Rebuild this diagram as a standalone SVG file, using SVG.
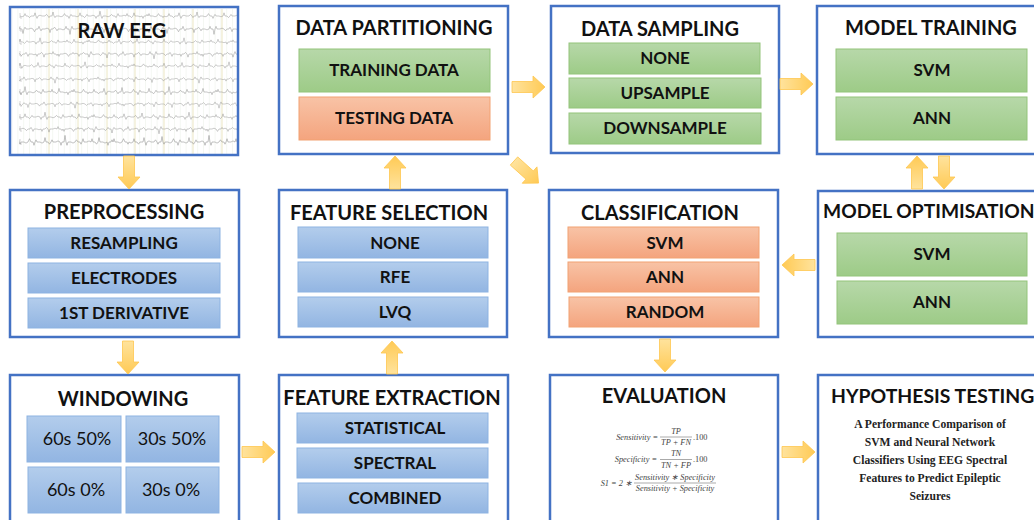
<svg xmlns="http://www.w3.org/2000/svg" xmlns:xlink="http://www.w3.org/1999/xlink" width="1034" height="520" viewBox="0 0 1034 520">
<style>
.box{fill:#fff;stroke:#4472C4;stroke-width:2.5}
.title{font-family:Lato,"Liberation Sans",sans-serif;font-weight:700;font-size:20px;fill:#111;text-anchor:middle}
.item{font-family:Lato,"Liberation Sans",sans-serif;font-weight:700;font-size:17px;fill:#111;text-anchor:middle}
.win{font-family:Lato,"Liberation Sans",sans-serif;font-weight:400;font-size:18px;fill:#111;text-anchor:middle}
.blue{fill:url(#gB);stroke:#8DB3E2;stroke-width:1}
.green{fill:url(#gG);stroke:#93C47B;stroke-width:1}
.orange{fill:url(#gO);stroke:#F2A273;stroke-width:1}
.arrow{fill:url(#gA);stroke:#FFC74F;stroke-width:0.8}
.f{font-family:"Liberation Serif",serif;font-style:italic;font-size:8.3px;fill:#444}
.fn{font-family:"Liberation Serif",serif;font-size:8.3px;fill:#444}
.fl{stroke:#555;stroke-width:0.5}
.hyp{font-family:"Liberation Serif",serif;font-weight:700;font-size:11.6px;fill:#222;text-anchor:middle}
.trace{fill:none;stroke:#8a8a8a;stroke-width:0.5}
</style>
<defs>
<linearGradient id="gB" x1="0" y1="0" x2="0" y2="1"><stop offset="0" stop-color="#B3CDEC"/><stop offset="1" stop-color="#92B5E2"/></linearGradient>
<linearGradient id="gG" x1="0" y1="0" x2="0" y2="1"><stop offset="0" stop-color="#B7D8A9"/><stop offset="1" stop-color="#9DCB87"/></linearGradient>
<linearGradient id="gO" x1="0" y1="0" x2="0" y2="1"><stop offset="0" stop-color="#F8C3A6"/><stop offset="1" stop-color="#F4A47E"/></linearGradient>
<linearGradient id="gA" x1="0" y1="0" x2="1" y2="0"><stop offset="0" stop-color="#FFE39D"/><stop offset="1" stop-color="#FFCA55"/></linearGradient>
<path id="arr" d="M0,-5.5 H21 V-11 L33,0 L21,11 V5.5 H0 Z"/>
<pattern id="grid" x="0" y="0" width="5.8" height="10" patternUnits="userSpaceOnUse"><line x1="0.3" y1="0" x2="0.3" y2="10" stroke="#E8EFE4" stroke-width="0.6"/></pattern>
<clipPath id="eegclip"><rect x="19" y="9" width="218" height="145"/></clipPath>
<path id="wv" d="M0,0 l2,1 2,-1 1,-3 1,3 2,0 1.5,2 1.5,-2 3,0 1,-4 1,4 1,3 1,-3 2,-1 2,1 3,0 1.5,-2 1.5,2 1,2 1,-2 2,0 1,-5 1,5 1,2 1,-2 3,0 2,1 2,-1 1.5,-3 1.5,3 2,0 1,3 1,-3 1,-2 1,2 3,0 2,1 2,-1 1,-4 1,4 2,0 1.5,2 1.5,-2 1,-2 1,2 3,0 2,-1 2,1 1,3 1,-3 2,0 1,-6 1,6 1,3 1,-3 3,0 2,1 2,-1 1.5,-2 1.5,2 2,0 1,2 1,-2 1,-3 1,3 3,0 2,-1 2,1 1,-3 1,3 2,0 1.5,2 1.5,-2 1,-4 1,4 3,0 2,1 2,-1 1,3 1,-3 2,0 1,-2 1,2 1,-3 1,3 3,0 2,1 2,-1 1.5,-3 1.5,3 2,0 1,2 1,-2"/>
<g id="w3"><use xlink:href="#wv"/><use xlink:href="#wv" x="144"/><use xlink:href="#wv" x="288"/></g>
</defs>

<g id="raw-eeg">
<rect x="10" y="7" width="228" height="148" fill="#fff"/>
<rect x="12" y="9" width="225" height="145" fill="url(#grid)"/>
<g stroke="#ECE7C4" stroke-width="1">
<line x1="49" y1="9" x2="49" y2="154"/><line x1="78" y1="9" x2="78" y2="154"/><line x1="107" y1="9" x2="107" y2="154"/><line x1="135" y1="9" x2="135" y2="154"/><line x1="164" y1="9" x2="164" y2="154"/><line x1="193" y1="9" x2="193" y2="154"/><line x1="222" y1="9" x2="222" y2="154"/>
</g>
<g fill="none" stroke="#aaa" stroke-width="0.5">
<path d="M20,13 v5 h2"/><path d="M20,26 v5 h2"/><path d="M20,39 v5 h2"/><path d="M20,51 v5 h2"/><path d="M20,63 v5 h2"/><path d="M20,76 v5 h2"/><path d="M20,89 v5 h2"/><path d="M20,101 v5 h2"/><path d="M20,114 v5 h2"/><path d="M20,126 v5 h2"/><path d="M20,139 v5 h2"/>
</g>
<g clip-path="url(#eegclip)" class="trace">
<use xlink:href="#w3" transform="translate(20,16) scale(1,0.8)"/>
<use xlink:href="#w3" transform="translate(-10,29) scale(1,-0.9)"/>
<use xlink:href="#w3" transform="translate(-40,42) scale(1,0.7)"/>
<use xlink:href="#w3" transform="translate(-70,54) scale(1,-0.8)"/>
<use xlink:href="#w3" transform="translate(5,66) scale(1,0.7)"/>
<use xlink:href="#w3" transform="translate(-25,79) scale(1,-0.7)"/>
<use xlink:href="#w3" transform="translate(-55,92) scale(1,0.9)"/>
<use xlink:href="#w3" transform="translate(-5,104) scale(1,-0.7)"/>
<use xlink:href="#w3" transform="translate(-35,117) scale(1,0.8)"/>
<use xlink:href="#w3" transform="translate(-65,129) scale(1,-0.8)"/>
<use xlink:href="#w3" transform="translate(-15,142) scale(1,1.1)"/>
</g>
<rect x="10" y="7" width="228" height="148" fill="none" stroke="#4472C4" stroke-width="2.5"/>
<text class="title" x="122" y="38">RAW EEG</text>
</g>

<g id="preprocessing">
<rect class="box" x="10" y="190" width="229" height="147"/>
<text class="title" x="124" y="219">PREPROCESSING</text>
<rect class="blue" x="28" y="228" width="192" height="30"/><text class="item" x="124" y="249">RESAMPLING</text>
<rect class="blue" x="28" y="263" width="192" height="30"/><text class="item" x="124" y="284">ELECTRODES</text>
<rect class="blue" x="28" y="298" width="192" height="30"/><text class="item" x="124" y="319">1ST DERIVATIVE</text>
</g>

<g id="windowing">
<rect class="box" x="10" y="375" width="229" height="150"/>
<text class="title" x="123" y="406">WINDOWING</text>
<rect class="blue" x="27" y="416" width="94" height="46"/><text class="win" x="77" y="445">60s 50%</text>
<rect class="blue" x="126" y="416" width="93" height="46"/><text class="win" x="172" y="445">30s 50%</text>
<rect class="blue" x="28" y="467" width="93" height="46"/><text class="win" x="76" y="496">60s 0%</text>
<rect class="blue" x="126" y="467" width="93" height="46"/><text class="win" x="171" y="496">30s 0%</text>
</g>

<g id="data-partitioning">
<rect class="box" x="279" y="6" width="229" height="148"/>
<text class="title" x="394" y="35">DATA PARTITIONING</text>
<rect class="green" x="299" y="49" width="191" height="43"/><text class="item" x="394" y="76">TRAINING DATA</text>
<rect class="orange" x="299" y="97" width="191" height="43"/><text class="item" x="394" y="124">TESTING DATA</text>
</g>

<g id="feature-selection">
<rect class="box" x="279" y="190" width="228" height="147"/>
<text class="title" x="389" y="220">FEATURE SELECTION</text>
<rect class="blue" x="298" y="227" width="190" height="31"/><text class="item" x="395" y="249">NONE</text>
<rect class="blue" x="298" y="262" width="190" height="30"/><text class="item" x="395" y="283">RFE</text>
<rect class="blue" x="298" y="297" width="190" height="30"/><text class="item" x="395" y="318">LVQ</text>
</g>

<g id="feature-extraction">
<rect class="box" x="279" y="375" width="229" height="150"/>
<text class="title" x="392" y="405">FEATURE EXTRACTION</text>
<rect class="blue" x="297" y="413" width="191" height="30"/><text class="item" x="395" y="434">STATISTICAL</text>
<rect class="blue" x="297" y="448" width="191" height="30"/><text class="item" x="395" y="469">SPECTRAL</text>
<rect class="blue" x="298" y="483" width="190" height="30"/><text class="item" x="395" y="504">COMBINED</text>
</g>

<g id="data-sampling">
<rect class="box" x="551" y="6" width="228" height="147"/>
<text class="title" x="660" y="36">DATA SAMPLING</text>
<rect class="green" x="569" y="43" width="191" height="31"/><text class="item" x="665" y="64">NONE</text>
<rect class="green" x="569" y="78" width="192" height="30"/><text class="item" x="665" y="99">UPSAMPLE</text>
<rect class="green" x="569" y="113" width="192" height="31"/><text class="item" x="665" y="134">DOWNSAMPLE</text>
</g>

<g id="classification">
<rect class="box" x="549" y="190" width="229" height="147"/>
<text class="title" x="660" y="220">CLASSIFICATION</text>
<rect class="orange" x="568" y="227" width="191" height="31"/><text class="item" x="665" y="249">SVM</text>
<rect class="orange" x="568" y="262" width="191" height="30"/><text class="item" x="665" y="283">ANN</text>
<rect class="orange" x="569" y="297" width="190" height="30"/><text class="item" x="665" y="318">RANDOM</text>
</g>

<g id="evaluation">
<rect class="box" x="550" y="375" width="228" height="150"/>
<text class="title" x="664" y="403">EVALUATION</text>
<text class="f" x="658" y="440" text-anchor="end">Sensitivity =</text>
<text class="f" x="676" y="434" text-anchor="middle">TP</text>
<line class="fl" x1="660" y1="437" x2="692" y2="437"/>
<text class="f" x="676" y="445" text-anchor="middle">TP + FN</text>
<text class="fn" x="693" y="440">.100</text>
<text class="f" x="657" y="462" text-anchor="end">Specificity =</text>
<text class="f" x="676" y="456" text-anchor="middle">TN</text>
<line class="fl" x1="660" y1="459.5" x2="692" y2="459.5"/>
<text class="f" x="676" y="468" text-anchor="middle">TN + FP</text>
<text class="fn" x="693" y="462">.100</text>
<text class="f" x="632" y="486" text-anchor="end">S1 = 2 ∗</text>
<text class="f" x="675" y="480" text-anchor="middle">Sensitivity ∗ Specificity</text>
<line class="fl" x1="634" y1="483" x2="716" y2="483"/>
<text class="f" x="675" y="491" text-anchor="middle">Sensitivity + Specificity</text>
</g>

<g id="model-training">
<rect class="box" x="817" y="6" width="230" height="148"/>
<text class="title" x="931" y="35">MODEL TRAINING</text>
<rect class="green" x="836" y="49" width="191" height="43"/><text class="item" x="932" y="76">SVM</text>
<rect class="green" x="836" y="97" width="191" height="43"/><text class="item" x="932" y="124">ANN</text>
</g>

<g id="model-optimisation">
<rect class="box" x="818" y="191" width="230" height="146"/>
<text class="title" x="823" y="218" style="text-anchor:start;font-size:19.2px">MODEL OPTIMISATION</text>
<rect class="green" x="837" y="233" width="190" height="43"/><text class="item" x="932" y="260">SVM</text>
<rect class="green" x="837" y="281" width="190" height="43"/><text class="item" x="932" y="308">ANN</text>
</g>

<g id="hypothesis-testing">
<rect class="box" x="818" y="375" width="230" height="150"/>
<text class="title" x="831" y="403" style="text-anchor:start;font-size:19.4px">HYPOTHESIS TESTING</text>
<text class="hyp" x="930" y="428">A Performance Comparison of</text>
<text class="hyp" x="930" y="446">SVM and Neural Network</text>
<text class="hyp" x="930" y="464">Classifiers Using EEG Spectral</text>
<text class="hyp" x="930" y="482">Features to Predict Epileptic</text>
<text class="hyp" x="930" y="500">Seizures</text>
</g>

<g id="connectors" class="arrow">
<use xlink:href="#arr" transform="translate(129,156) rotate(90)"/>
<use xlink:href="#arr" transform="translate(128,341) rotate(90)"/>
<use xlink:href="#arr" transform="translate(242,452)"/>
<use xlink:href="#arr" transform="translate(392,374) rotate(-90)"/>
<use xlink:href="#arr" transform="translate(395,189) rotate(-90)"/>
<use xlink:href="#arr" transform="translate(512,87)"/>
<use xlink:href="#arr" transform="translate(514,161) rotate(42)"/>
<use xlink:href="#arr" transform="translate(780,84)"/>
<use xlink:href="#arr" transform="translate(917,189) rotate(-90)"/>
<use xlink:href="#arr" transform="translate(944,156) rotate(90)"/>
<use xlink:href="#arr" transform="translate(815,265) rotate(180)"/>
<use xlink:href="#arr" transform="translate(665,339) rotate(90)"/>
<use xlink:href="#arr" transform="translate(782,452)"/>
</g>
</svg>
